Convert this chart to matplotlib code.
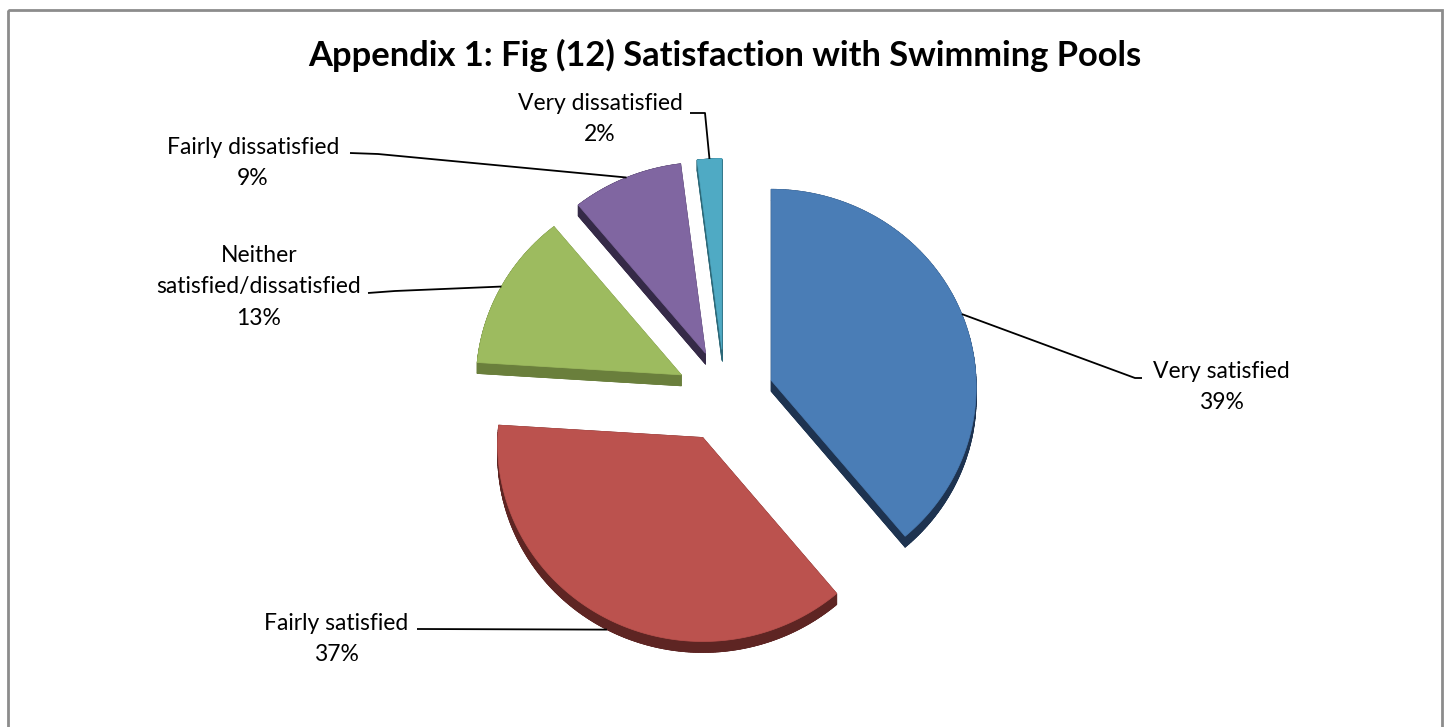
import numpy as np
import matplotlib.pyplot as plt
from matplotlib.patches import Polygon, Rectangle

# Survey shares, clockwise from 12 o'clock
labels = ['Very satisfied', 'Fairly satisfied', 'Neither\nsatisfied/dissatisfied',
          'Fairly dissatisfied', 'Very dissatisfied']
shares = [39, 37, 13, 9, 2]
top_colors = ['#4a7db6', '#bb524e', '#9dbb5f', '#8066a1', '#4faac4']
side_colors = ['#1e3350', '#5e2523', '#6a7f3c', '#352a47', '#2c6878']

# label centres and leader-line bends (pixels)
label_pos = [(1221, 387), (336, 639), (259, 287), (253, 163), (600, 119)]
knees = [(1135, 378), (420, 629), (395, 291), (378, 154), (705, 113)]
ends = [(1142, 378), (417, 629), (368, 293), (350, 153), (690, 113)]

W, H = 1451, 727
cx, cy = 725, 396          # pie centre
rx, ry = 205, 197.5        # ellipse radii
persp = 0.033              # front edge slightly larger
explode = 49
depth = 11


def surf(x0, y0, th, r=1.0):
    u, v = np.sin(th), -np.cos(th)
    s = 1 + persp * v
    return x0 + r * rx * u * s, y0 + r * ry * v * s


fig = plt.figure(figsize=(W / 100, H / 100), dpi=100)
ax = fig.add_axes([0, 0, 1, 1])
ax.set_xlim(0, W)
ax.set_ylim(H, 0)
ax.axis('off')

ax.add_patch(Rectangle((8, 10), 1434, 740, fill=False, ec='#8c8c8c', lw=2))

fracs = np.array(shares) / sum(shares)
starts = np.concatenate([[0], np.cumsum(fracs)[:-1]]) * 2 * np.pi
stops = np.cumsum(fracs) * 2 * np.pi

slices = []
for i in range(len(shares)):
    mid = (starts[i] + stops[i]) / 2
    ax0 = cx + explode * np.sin(mid)
    ay0 = cy - explode * np.cos(mid) * 0.95
    th = np.linspace(starts[i], stops[i], 200)
    xs, ys = surf(ax0, ay0, th)
    pts = np.vstack([[ax0, ay0], np.column_stack([xs, ys])])
    slices.append((i, pts, ax0, ay0, mid))

# sides first, from the back to the front
for i, pts, ax0, ay0, mid in sorted(slices, key=lambda s: s[3]):
    sc = side_colors[i]
    low = pts + [0, depth]
    ax.add_patch(Polygon(low, closed=True, fc=sc, ec=sc, lw=0.5))
    n = len(pts)
    for k in range(n):
        a, b = pts[k], pts[(k + 1) % n]
        quad = [a, b, b + [0, depth], a + [0, depth]]
        ax.add_patch(Polygon(quad, closed=True, fc=sc, ec=sc, lw=0.5))
    ax.add_patch(Polygon(pts, closed=True, fc=top_colors[i], ec=top_colors[i], lw=0.5))

font = ['Lato', 'DejaVu Sans']
for i, pts, ax0, ay0, mid in slices:
    px, py = surf(ax0, ay0, mid)
    if np.cos(mid) < 0:
        py += depth   # front slices: leader meets the rim
    kx, ky = knees[i]
    ex, ey = ends[i]
    ax.plot([px, kx, ex], [py, ky, ey], color='black', lw=1.3, solid_capstyle='butt')
    lx, ly = label_pos[i]
    ax.text(lx, ly, f'{labels[i]}\n{shares[i]}%', ha='center', va='center',
            fontsize=16.5, family=font, linespacing=1.6)

ax.text(725, 55, 'Appendix 1: Fig (12) Satisfaction with Swimming Pools',
        ha='center', va='center', fontsize=24.8, fontweight='bold', family=font)

fig.savefig('out.png', dpi=100)
